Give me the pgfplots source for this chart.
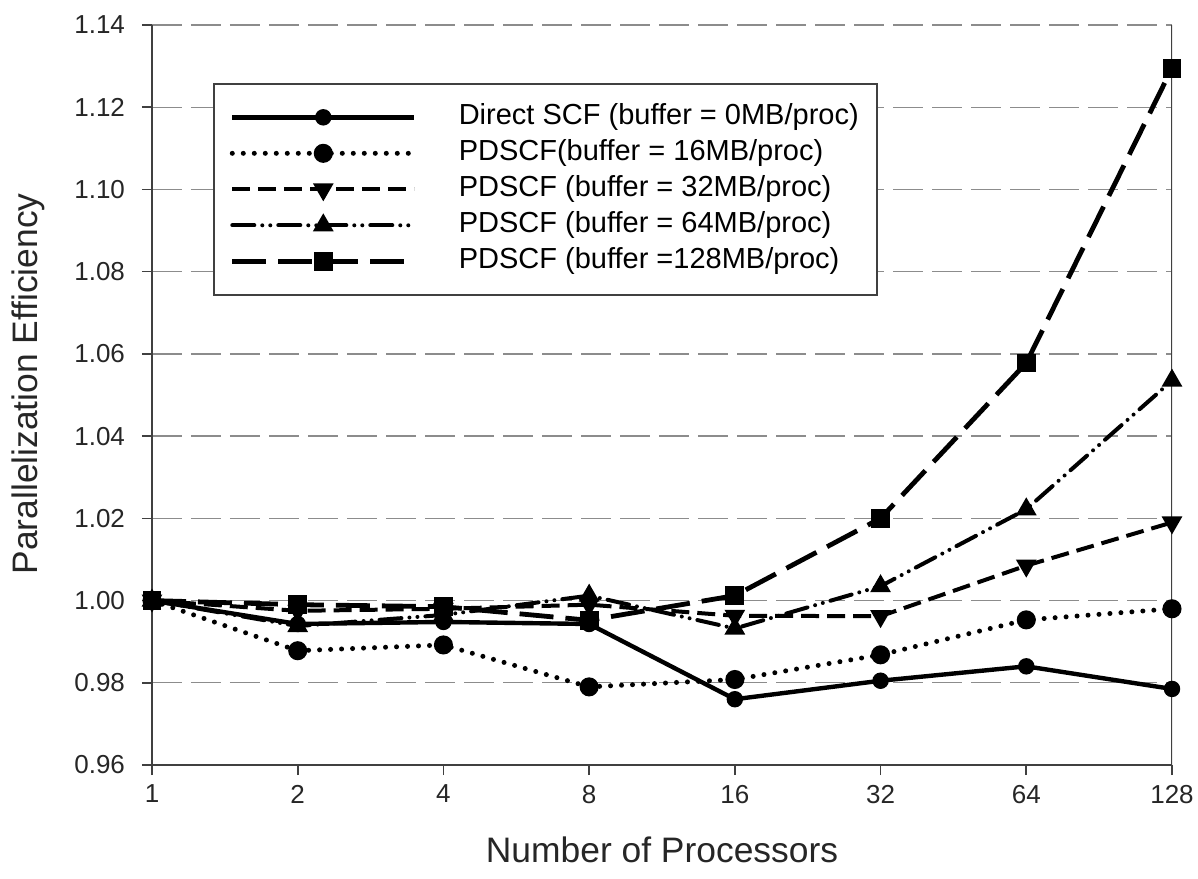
\documentclass[border=0pt]{standalone}
\usepackage{fontspec}
\setmainfont{Liberation Sans}
\usepackage{pgfplots}
\pgfplotsset{compat=1.18}
\begin{document}
\begin{tikzpicture}
\begin{axis}[
  scale only axis,
  width=510pt, height=370pt,
  xmin=0, xmax=7, ymin=0.96, ymax=1.14,
  xtick={0,1,2,3,4,5,6,7},
  xticklabels={1,2,4,8,16,32,64,128},
  ytick={0.96,0.98,1.00,1.02,1.04,1.06,1.08,1.10,1.12,1.14},
  ticklabel style={font=\fontsize{13}{15}\selectfont, text=black!85},
  yticklabel style={xshift=-5pt, /pgf/number format/.cd,fixed,fixed zerofill,precision=2,assume math mode=true},
  xticklabel style={yshift=-1.5pt},
  axis x line*=bottom, axis y line*=left,
  axis line style={line width=0.8pt, black!75, -},
  tick align=outside, major tick length=5pt,
  tick style={line width=0.8pt, black!75},
  ymajorgrids, xmajorgrids=false,
  major grid style={black!45, dash pattern=on 15pt off 4.5pt, line width=0.7pt},
  xlabel={Number of Processors},
  ylabel={Parallelization Efficiency},
  every axis x label/.style={at={(axis description cs:0.5,-0.1149)}, anchor=center, font=\fontsize{17.7}{20}\selectfont, text=black!85},
  every axis y label/.style={at={(axis description cs:-0.1216,0.515)}, anchor=center, rotate=90, font=\fontsize{17.7}{20}\selectfont, text=black!85},
  legend style={at={(0.0598,0.9216)}, anchor=north west, draw=black!75, line width=0.8pt,
    font=\fontsize{14.5}{17}\selectfont, inner xsep=8pt, inner ysep=9pt,
    nodes={inner sep=1pt, text height=10.5pt, text depth=3pt},
    row sep=2.5pt, column sep=20pt},
  legend cell align=left,
  legend image code/.code={\draw[mark repeat=2,mark phase=2,#1] plot coordinates {(0pt,0pt) (45.5pt,0pt) (91pt,0pt)};},
]
\addplot[black, line width=2.2pt, mark=*, mark size=3pt, mark options={solid}]
  coordinates {(0,1.000) (1,0.9943) (2,0.9948) (3,0.9943) (4,0.9760) (5,0.9805) (6,0.9840) (7,0.9785)};
\addlegendentry{Direct SCF (buffer = 0MB/proc)}
\addplot[black, line width=2.5pt, line cap=round, dash pattern=on 0pt off 5.5pt, mark=*, mark size=3.5pt, mark options={solid}]
  coordinates {(0,1.000) (1,0.9878) (2,0.9892) (3,0.9790) (4,0.9808) (5,0.9868) (6,0.9953) (7,0.9980)};
\addlegendentry{PDSCF(buffer = 16MB/proc)}
\addplot[black, line width=2pt, dash pattern=on 9pt off 4pt, mark=triangle*, mark size=4pt, mark options={solid, rotate=180}]
  coordinates {(0,1.000) (1,0.9975) (2,0.9980) (3,0.9990) (4,0.9963) (5,0.9962) (6,1.0085) (7,1.0190)};
\addlegendentry{PDSCF (buffer = 32MB/proc)}
\addplot[black, line width=2pt, line cap=round, dash pattern=on 11pt off 4pt on 0pt off 4pt on 0pt off 4pt, mark=triangle*, mark size=4pt, mark options={solid}]
  coordinates {(0,1.000) (1,0.9938) (2,0.9965) (3,1.0012) (4,0.9932) (5,1.0035) (6,1.0222) (7,1.0535)};
\addlegendentry{PDSCF (buffer = 64MB/proc)}
\addplot[black, line width=2.4pt, dash pattern=on 17pt off 6pt, mark=square*, mark size=3.5pt, mark options={solid}]
  coordinates {(0,1.000) (1,0.9990) (2,0.9985) (3,0.9952) (4,1.0012) (5,1.0200) (6,1.0578) (7,1.1295)};
\addlegendentry{PDSCF (buffer =128MB/proc)}
\draw[line width=0.8pt, black!75] (rel axis cs:1,0) -- (rel axis cs:1,1);
\coordinate (SW) at (rel axis cs:0,0);
\coordinate (NE) at (rel axis cs:1,1);
\end{axis}
\pgfresetboundingbox
\path[use as bounding box] ([shift={(-76pt,-56.5pt)}]SW) rectangle ([shift={(13pt,12.5pt)}]NE);
\end{tikzpicture}
\end{document}
